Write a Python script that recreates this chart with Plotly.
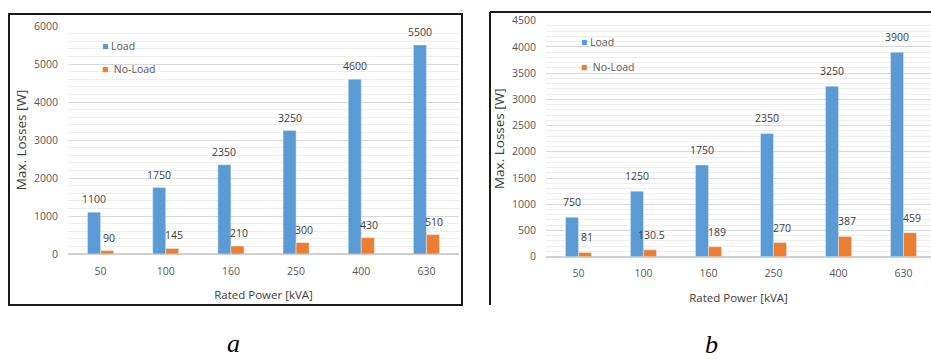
import plotly.graph_objects as go

# Rated power of the distribution transformers (categories)
ratings = ["50", "100", "160", "250", "400", "630"]

# Panel a: maximum losses [W]
load_a = [1100, 1750, 2350, 3250, 4600, 5500]
noload_a = [90, 145, 210, 300, 430, 510]

# Panel b: maximum losses [W]
load_b = [750, 1250, 1750, 2350, 3250, 3900]
noload_b = [81, 130.5, 189, 270, 387, 459]

panel_letters = ["a", "b"]

BLUE = "#5B9BD5"
ORANGE = "#ED7D31"
TICK_GRAY = "#595959"
LABEL_GRAY = "#404040"
FONT = "'Open Sans', Lato, sans-serif"

W, H = 931, 359


def fx(p):
    return p / W


def fy(p):
    return 1 - p / H


def fmt(v):
    return f"{v:g}"


fig = go.Figure()

for xa, ya, load, noload in (("x", "y", load_a, noload_a), ("x2", "y2", load_b, noload_b)):
    fig.add_trace(go.Bar(x=ratings, y=load, name="Load", marker_color=BLUE,
                         xaxis=xa, yaxis=ya, showlegend=False))
    fig.add_trace(go.Bar(x=ratings, y=noload, name="No-Load", marker_color=ORANGE,
                         xaxis=xa, yaxis=ya, showlegend=False))

annotations = []
label_font = dict(family=FONT, size=10.5, color=LABEL_GRAY)
# value labels above the bars (category axes are addressed by index)
for xref, yref, load, noload, lift in (("x", "y", load_a, noload_a, 13),
                                        ("x2", "y2", load_b, noload_b, 15)):
    for i, v in enumerate(load):
        annotations.append(dict(x=i, y=v, xref=xref, yref=yref, text=fmt(v),
                                showarrow=False, xshift=-6.5, yshift=lift, font=label_font))
    for i, v in enumerate(noload):
        annotations.append(dict(x=i, y=v, xref=xref, yref=yref, text=fmt(v),
                                showarrow=False, xshift=8, yshift=lift, font=label_font))

# in-plot legends
legend_font = dict(family=FONT, size=10.5, color=TICK_GRAY)
for x0, y_load, y_noload in ((100, 46, 69.3), (578.5, 42.3, 66.7)):
    annotations.append(dict(x=fx(x0), y=fy(y_load), xref="paper", yref="paper",
                            xanchor="left", yanchor="middle", showarrow=False,
                            text=f"<span style='color:{BLUE}'>■</span> Load",
                            font=legend_font))
    annotations.append(dict(x=fx(x0), y=fy(y_noload), xref="paper", yref="paper",
                            xanchor="left", yanchor="middle", showarrow=False,
                            text=f"<span style='color:{ORANGE}'>■</span>&nbsp; No-Load",
                            font=legend_font))

# panel letters below each chart
for letter, x, y in zip(panel_letters, (225, 720), (360, 361)):
    annotations.append(dict(x=fx(x), y=fy(y), xref="paper", yref="paper",
                            showarrow=False, text=f"<i>{letter}</i>",
                            font=dict(family="'Liberation Serif', 'Times New Roman', serif",
                                      size=26, color="#000000")))

shapes = [
    # frame around panel a
    dict(type="rect", xref="paper", yref="paper", x0=fx(9), x1=fx(462), y0=fy(305), y1=fy(14),
         line=dict(color="#1a1a1a", width=2)),
    # frame around panel b (top and left edges)
    dict(type="line", xref="paper", yref="paper", x0=fx(490), x1=1.0, y0=fy(12), y1=fy(12),
         line=dict(color="#1a1a1a", width=2)),
    dict(type="line", xref="paper", yref="paper", x0=fx(490), x1=fx(490), y0=fy(305), y1=fy(12),
         line=dict(color="#1a1a1a", width=2)),
]

tickfont = dict(family=FONT, size=10.5, color=TICK_GRAY)

common_x = dict(type="category", showgrid=False, zeroline=False, showline=False,
                ticks="", tickfont=tickfont, ticklabelstandoff=9,
                title=dict(text="Rated Power [kVA]",
                           font=dict(family=FONT, size=11.5, color="#404040"), standoff=14))
common_y = dict(showline=False, ticks="", tickfont=tickfont, ticklabelstandoff=9,
                gridcolor="#d9d9d9", gridwidth=1,
                zeroline=True, zerolinecolor="#d0d0d0", zerolinewidth=1.5,
                title=dict(text="Max. Losses [W]",
                           font=dict(family=FONT, size=13.5, color="#404040"), standoff=4))

fig.update_layout(
    width=W, height=H,
    margin=dict(l=0, r=0, t=0, b=0, autoexpand=False),
    paper_bgcolor="white", plot_bgcolor="white",
    barmode="group", bargap=0.6, bargroupgap=0,
    xaxis=dict(common_x, domain=[fx(68), fx(459)], anchor="y", range=[-0.5, 5.5]),
    yaxis=dict(common_y, domain=[fy(254), fy(26)], anchor="x", range=[0, 6000], dtick=1000,
               minor=dict(dtick=200, showgrid=True, gridcolor="#eeeeee", gridwidth=1)),
    xaxis2=dict(common_x, domain=[fx(546), 1.0], anchor="y2", range=[-0.5, 5.423]),
    yaxis2=dict(common_y, domain=[fy(256.7), fy(20.7)], anchor="x2", range=[0, 4500], dtick=500,
                minor=dict(dtick=100, showgrid=True, gridcolor="#eeeeee", gridwidth=1)),
    annotations=annotations,
    shapes=shapes,
    showlegend=False,
)

fig.write_html("out.html")
